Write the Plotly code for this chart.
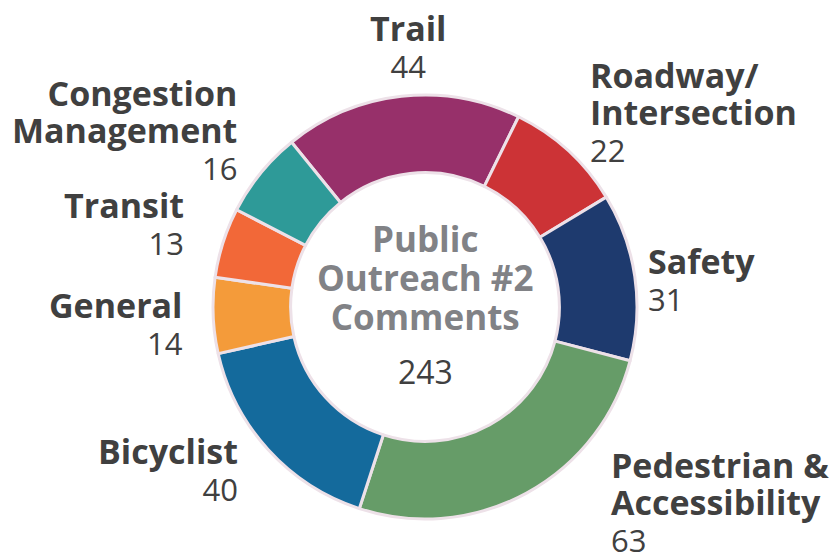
import plotly.graph_objects as go

categories = ["Trail", "Roadway/Intersection", "Safety", "Pedestrian & Accessibility",
              "Bicyclist", "General", "Transit", "Congestion Management"]
values = [44, 22, 31, 63, 40, 14, 13, 16]
colors = ["#97306A", "#CC3336", "#1E3A6E", "#669C68", "#146A9C", "#F49B3A", "#F26838", "#2E9A98"]
label_lines = [["Trail"], ["Roadway/", "Intersection"], ["Safety"], ["Pedestrian &", "Accessibility"],
               ["Bicyclist"], ["General"], ["Transit"], ["Congestion", "Management"]]
center_title = ["Public", "Outreach #2", "Comments"]
total = sum(values)

W, H = 831, 555
CX, CY, R = 425, 307, 212

fig = go.Figure(go.Pie(
    labels=categories, values=values, sort=False, direction="clockwise",
    rotation=-39, hole=0.634,
    marker=dict(colors=colors, line=dict(color="#EDE1E8", width=3)),
    textinfo="none", hoverinfo="label+value", showlegend=False,
    domain=dict(x=[(CX - R) / W, (CX + R) / W], y=[(H - CY - R) / H, (H - CY + R) / H]),
))

DARK = "#404040"
BOLD_SIZE, VAL_SIZE = 34, 31
LS = 37  # line spacing in px

def px2paper(x, y):
    return x / W, 1 - y / H

layout_pos = {
    "Trail": (408, "center", 40),
    "Roadway/Intersection": (589, "left", 87),
    "Safety": (647, "left", 273),
    "Pedestrian & Accessibility": (610, "left", 477),
    "Bicyclist": (239, "right", 463),
    "General": (184, "right", 317),
    "Transit": (185, "right", 217),
    "Congestion Management": (238, "right", 105),
}
annotations = []

def add_block(parts, x, first_baseline, align, base_size, color):
    # parts: list of (text, size, bold)
    html = "<br>".join(
        (f"<span style='font-size:{s}px'><b>{t}</b></span>" if b else f"<span style='font-size:{s}px'>{t}</span>")
        for t, s, b in parts)
    px, py = px2paper(x, first_baseline - 36)
    annotations.append(dict(text=html, x=px, y=py, xref="paper", yref="paper",
                            xanchor=align, yanchor="top", align=align, showarrow=False,
                            font=dict(family="Open Sans", size=base_size, color=color),
                            borderpad=0))

for cat, val, lines in zip(categories, values, label_lines):
    x, align, base = layout_pos[cat]
    parts = [(ln, BOLD_SIZE, True) for ln in lines] + [(str(val), VAL_SIZE, False)]
    add_block(parts, x, base, align, LS / 1.3, DARK)

add_block([(ln, 35, True) for ln in center_title], CX, 250, "center", 39 / 1.3, "#818286")
add_block([(str(total), 32, False)], CX, 385, "center", 32, DARK)

fig.update_layout(
    width=W, height=H, margin=dict(l=0, r=0, t=0, b=0),
    paper_bgcolor="white", plot_bgcolor="white",
    annotations=annotations,
)
fig.write_html("out.html", config={"displayModeBar": False},
               post_script="document.body.style.margin='0px';document.body.style.overflow='hidden';")
